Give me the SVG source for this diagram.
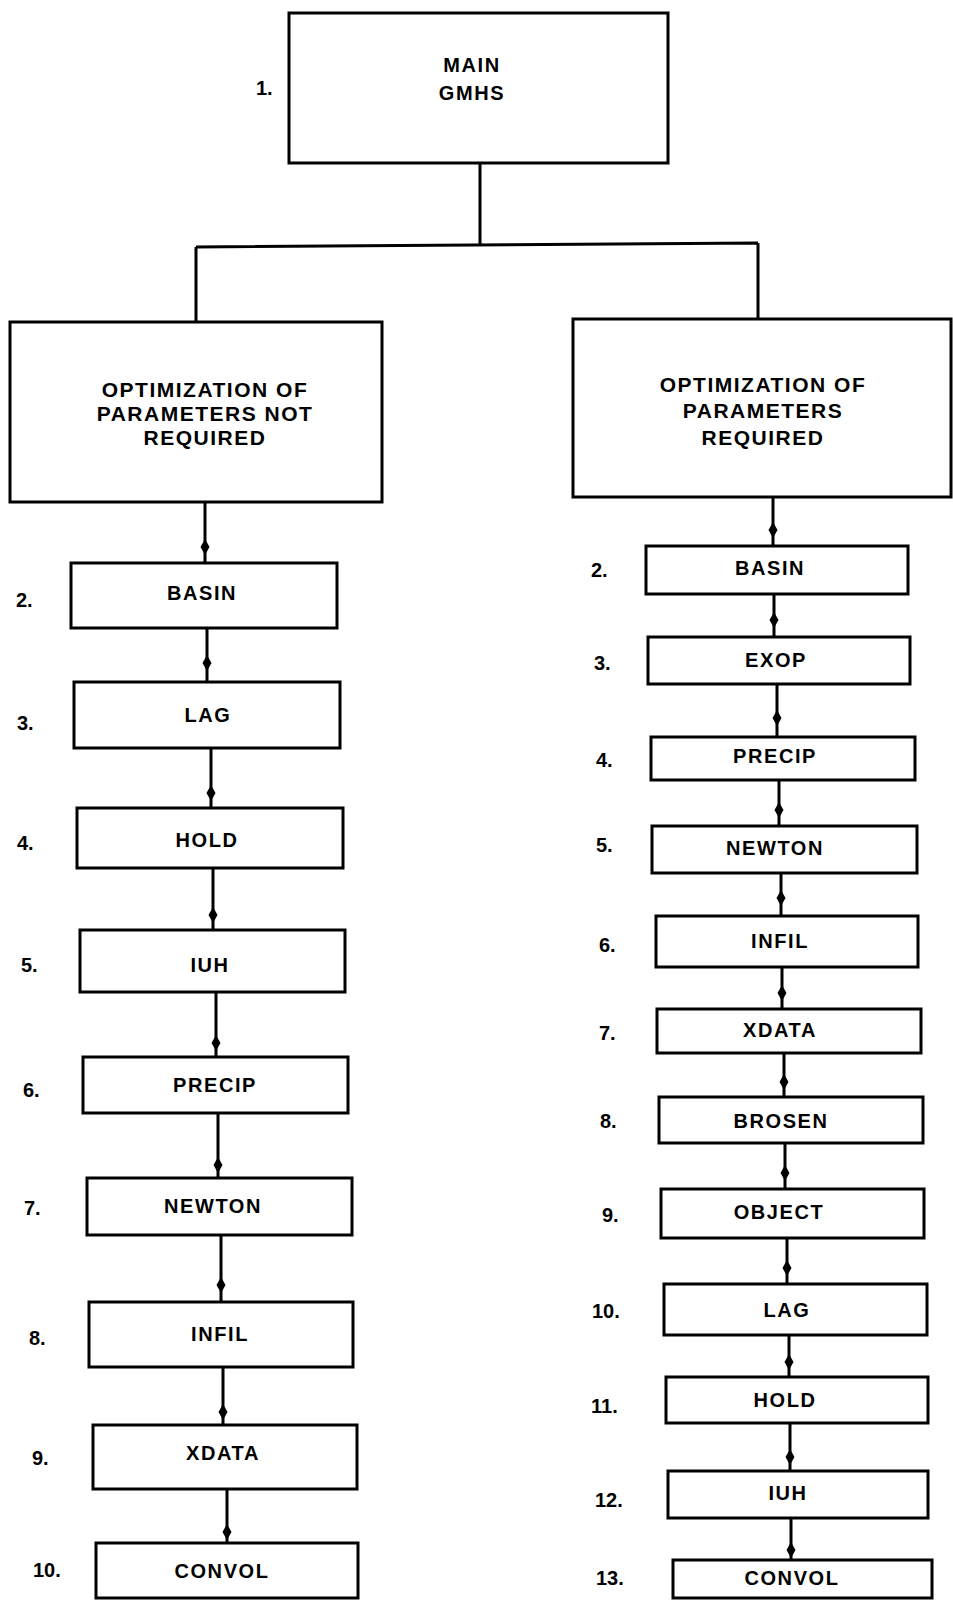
<svg xmlns="http://www.w3.org/2000/svg" xmlns:xlink="http://www.w3.org/1999/xlink" width="953" height="1602" viewBox="0 0 953 1602">
<style>
.box{fill:#fff;stroke:#000;stroke-width:3}
.ln{fill:none;stroke:#000;stroke-width:3}
.t{font-family:"Liberation Sans",Arial,sans-serif;font-weight:bold;font-size:20px;letter-spacing:1.6px;text-anchor:middle;fill:#000}
.big{font-size:21px;letter-spacing:1.5px}
.n{font-family:"Liberation Sans",Arial,sans-serif;font-weight:bold;font-size:20px;fill:#000}
</style>
<defs>
<path id="ah" d="M0,-8 L4.5,0 L0,8 L-4.5,0 Z" fill="#000"/>
</defs>
<rect width="953" height="1602" fill="#fff"/>
<g id="connectors">
<path class="ln" d="M480,163 V245 M196,247 L758,243 M196,247 V322 M758,243 V319"/>
<path class="ln" d="M205,500 V563 M207,628 V682 M211,748 V808 M213,868 V930 M216,992 V1057 M218,1113 V1178 M221,1235 V1302 M223,1367 V1425 M227,1489 V1543"/>
<path class="ln" d="M773,497 V546 M774,594 V637 M777,684 V737 M779,780 V826 M781,873 V916 M782,967 V1009 M784,1053 V1097 M785,1143 V1189 M787,1238 V1284 M789,1335 V1377 M790,1423 V1471 M791,1518 V1560"/>
<use xlink:href="#ah" x="205" y="547"/>
<use xlink:href="#ah" x="207" y="663"/>
<use xlink:href="#ah" x="211" y="793"/>
<use xlink:href="#ah" x="213" y="915"/>
<use xlink:href="#ah" x="216" y="1043"/>
<use xlink:href="#ah" x="218" y="1165"/>
<use xlink:href="#ah" x="221" y="1285"/>
<use xlink:href="#ah" x="223" y="1412"/>
<use xlink:href="#ah" x="227" y="1532"/>
<use xlink:href="#ah" x="773" y="530"/>
<use xlink:href="#ah" x="774" y="620"/>
<use xlink:href="#ah" x="777" y="718"/>
<use xlink:href="#ah" x="779" y="810"/>
<use xlink:href="#ah" x="781" y="898"/>
<use xlink:href="#ah" x="782" y="993"/>
<use xlink:href="#ah" x="784" y="1082"/>
<use xlink:href="#ah" x="785" y="1173"/>
<use xlink:href="#ah" x="787" y="1268"/>
<use xlink:href="#ah" x="789" y="1362"/>
<use xlink:href="#ah" x="790" y="1457"/>
<use xlink:href="#ah" x="791" y="1550"/>
</g>
<g id="main">
<rect class="box" x="289" y="13" width="379" height="150"/>
<text class="t" x="472" y="72">MAIN</text>
<text class="t" x="472" y="100">GMHS</text>
<text class="n" x="256" y="95">1.</text>
</g>
<g id="opt-not-required">
<rect class="box" x="10" y="322" width="372" height="180"/>
<text class="t big" x="205" y="397">OPTIMIZATION OF</text>
<text class="t big" x="205" y="421">PARAMETERS NOT</text>
<text class="t big" x="205" y="445">REQUIRED</text>
</g>
<g id="opt-required">
<rect class="box" x="573" y="319" width="378" height="178"/>
<text class="t big" x="763" y="392">OPTIMIZATION OF</text>
<text class="t big" x="763" y="418">PARAMETERS</text>
<text class="t big" x="763" y="445">REQUIRED</text>
</g>
<g id="L2"><rect class="box" x="71" y="563" width="266" height="65"/><text class="t" x="202" y="600">BASIN</text><text class="n" x="16" y="607">2.</text></g>
<g id="L3"><rect class="box" x="74" y="682" width="266" height="66"/><text class="t" x="208" y="722">LAG</text><text class="n" x="17" y="730">3.</text></g>
<g id="L4"><rect class="box" x="77" y="808" width="266" height="60"/><text class="t" x="207" y="847">HOLD</text><text class="n" x="17" y="850">4.</text></g>
<g id="L5"><rect class="box" x="80" y="930" width="265" height="62"/><text class="t" x="210" y="972">IUH</text><text class="n" x="21" y="972">5.</text></g>
<g id="L6"><rect class="box" x="83" y="1057" width="265" height="56"/><text class="t" x="215" y="1092">PRECIP</text><text class="n" x="23" y="1097">6.</text></g>
<g id="L7"><rect class="box" x="87" y="1178" width="265" height="57"/><text class="t" x="213" y="1213">NEWTON</text><text class="n" x="24" y="1215">7.</text></g>
<g id="L8"><rect class="box" x="89" y="1302" width="264" height="65"/><text class="t" x="220" y="1341">INFIL</text><text class="n" x="29" y="1345">8.</text></g>
<g id="L9"><rect class="box" x="93" y="1425" width="264" height="64"/><text class="t" x="223" y="1460">XDATA</text><text class="n" x="32" y="1465">9.</text></g>
<g id="L10"><rect class="box" x="96" y="1543" width="262" height="55"/><text class="t" x="222" y="1578">CONVOL</text><text class="n" x="33" y="1577">10.</text></g>
<g id="R2"><rect class="box" x="646" y="546" width="262" height="48"/><text class="t" x="770" y="575">BASIN</text><text class="n" x="591" y="577">2.</text></g>
<g id="R3"><rect class="box" x="648" y="637" width="262" height="47"/><text class="t" x="776" y="667">EXOP</text><text class="n" x="594" y="670">3.</text></g>
<g id="R4"><rect class="box" x="651" y="737" width="264" height="43"/><text class="t" x="775" y="763">PRECIP</text><text class="n" x="596" y="767">4.</text></g>
<g id="R5"><rect class="box" x="652" y="826" width="265" height="47"/><text class="t" x="775" y="855">NEWTON</text><text class="n" x="596" y="852">5.</text></g>
<g id="R6"><rect class="box" x="656" y="916" width="262" height="51"/><text class="t" x="780" y="948">INFIL</text><text class="n" x="599" y="952">6.</text></g>
<g id="R7"><rect class="box" x="657" y="1009" width="264" height="44"/><text class="t" x="780" y="1037">XDATA</text><text class="n" x="599" y="1040">7.</text></g>
<g id="R8"><rect class="box" x="659" y="1097" width="264" height="46"/><text class="t" x="781" y="1128">BROSEN</text><text class="n" x="600" y="1128">8.</text></g>
<g id="R9"><rect class="box" x="661" y="1189" width="263" height="49"/><text class="t" x="779" y="1219">OBJECT</text><text class="n" x="602" y="1222">9.</text></g>
<g id="R10"><rect class="box" x="664" y="1284" width="263" height="51"/><text class="t" x="787" y="1317">LAG</text><text class="n" x="592" y="1318">10.</text></g>
<g id="R11"><rect class="box" x="666" y="1377" width="262" height="46"/><text class="t" x="785" y="1407">HOLD</text><text class="n" x="591" y="1413">11.</text></g>
<g id="R12"><rect class="box" x="668" y="1471" width="260" height="47"/><text class="t" x="788" y="1500">IUH</text><text class="n" x="595" y="1507">12.</text></g>
<g id="R13"><rect class="box" x="673" y="1560" width="259" height="38"/><text class="t" x="792" y="1585">CONVOL</text><text class="n" x="596" y="1585">13.</text></g>
</svg>
